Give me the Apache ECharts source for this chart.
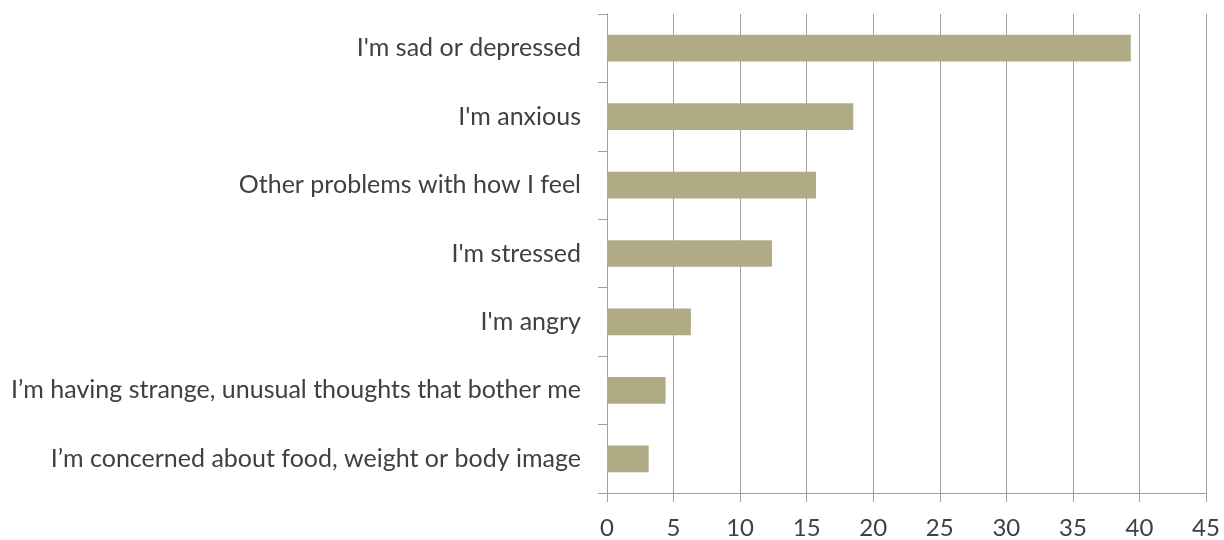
<!DOCTYPE html>
<html><head><meta charset="utf-8">
<script src="https://cdn.jsdelivr.net/npm/echarts@6/dist/echarts.min.js"></script>
<style>html,body{margin:0;padding:0;background:#fff}#c{width:1224px;height:540px}</style>
</head><body><div id="c"></div>
<script>
const categories = [
  "I'm sad or depressed",
  "I'm anxious",
  "Other problems with how I feel",
  "I'm stressed",
  "I'm angry",
  "I\u2019m having strange, unusual thoughts that bother me",
  "I\u2019m concerned about food, weight or body image"
];
const values = [39.35, 18.5, 15.7, 12.4, 6.3, 4.4, 3.13];
const xTicks = { min: 0, max: 45, interval: 5 };

const FONT = 'Lato';
const chart = echarts.init(document.getElementById('c'), null, { renderer: 'canvas' });
chart.setOption({
  animation: false,
  grid: { left: 607, right: 18, top: 14, bottom: 46, containLabel: false },
  xAxis: {
    type: 'value', min: xTicks.min, max: xTicks.max, interval: xTicks.interval,
    axisLine: { show: true, lineStyle: { color: '#a0a0a0', width: 1 } },
    axisTick: { show: true, inside: false, length: 9, lineStyle: { color: '#a0a0a0' } },
    axisLabel: { color: '#404040', fontFamily: FONT, fontSize: 24, margin: 23 },
    splitLine: { show: true, lineStyle: { color: '#a0a0a0', width: 1 } }
  },
  yAxis: {
    type: 'category', data: categories, inverse: true,
    axisLine: { show: true, lineStyle: { color: '#a0a0a0', width: 1 } },
    axisTick: { show: true, length: 9, alignWithLabel: false, lineStyle: { color: '#a0a0a0' } },
    axisLabel: { color: '#404040', fontFamily: FONT, fontSize: 25, margin: 26 },
    splitLine: { show: false }
  },
  series: [{
    type: 'bar', data: values, barWidth: '39%',
    itemStyle: { color: '#b0ab85' }
  }]
});
</script></body></html>
